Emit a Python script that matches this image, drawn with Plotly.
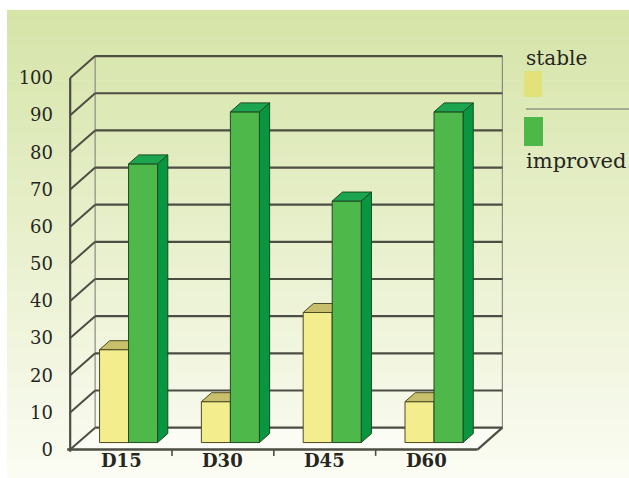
import plotly.graph_objects as go

# ---- data -------------------------------------------------------------
categories = ["D15", "D30", "D45", "D60"]
series_names = ["stable", "improved"]
stable = [25, 11, 35, 11]
improved = [75, 89, 65, 89]
y_ticks = [0, 10, 20, 30, 40, 50, 60, 70, 80, 90, 100]

# ---- styling ----------------------------------------------------------
W, H = 629, 478
SERIF = "DejaVu Serif"
TEXT = "#26261f"
GRID = "#4d4d44"
WALL_EDGE = "#8a8a80"
FACES = {
    "stable": dict(front="#f3ed8e", top="#c8bf6c", side="#b9b25c", line="#4e4a22"),
    "improved": dict(front="#4fb84a", top="#1aa54e", side="#089641", line="#1d4a22"),
}

# oblique projection of the 3-D box: depth z in [0, 1]
DX = 0.245   # depth shift in category units
DY = 5.9     # depth shift in value units
Z_FRONT, Z_BACK = 0.32, 0.73
BAR_SLOTS = {"stable": (0.21, 0.495), "improved": (0.495, 0.78)}

X_RANGE = [-0.1, 4.3]
Y_RANGE = [-2.0, 107.0]
M = dict(l=60, r=121, t=52, b=21)
PW = W - M["l"] - M["r"]
PH = H - M["t"] - M["b"]


def proj(x, v, z):
    return x + z * DX, v + z * DY


def px_x(px):
    return (px - M["l"]) / PW


def px_y(py):
    return 1 - (py - M["t"]) / PH


def poly(pts, fill, line, width=1.0):
    xs = [p[0] for p in pts] + [pts[0][0]]
    ys = [p[1] for p in pts] + [pts[0][1]]
    return go.Scatter(x=xs, y=ys, mode="lines", fill="toself", fillcolor=fill,
                      line=dict(color=line, width=width), hoverinfo="skip",
                      showlegend=False)


def seg(a, b, color, width):
    return go.Scatter(x=[a[0], b[0]], y=[a[1], b[1]], mode="lines",
                      line=dict(color=color, width=width), hoverinfo="skip",
                      showlegend=False)


fig = go.Figure()
n = len(categories)
vmax = y_ticks[-1]

# floor
fig.add_trace(poly([proj(0, 0, 0), proj(n, 0, 0), proj(n, 0, 1), proj(0, 0, 1)],
                   "rgba(255,255,255,0.45)", "rgba(0,0,0,0)", 0))

# back wall and left wall
fig.add_trace(seg(proj(0, 0, 1), proj(0, vmax, 1), WALL_EDGE, 1.2))
fig.add_trace(seg(proj(n, 0, 1), proj(n, vmax, 1), WALL_EDGE, 1.2))
for t in y_ticks:
    fig.add_trace(seg(proj(0, t, 1), proj(n, t, 1), GRID, 2.2))
    fig.add_trace(seg(proj(0, t, 0), proj(0, t, 1), GRID, 2.0))

# front value axis and floor edges
fig.add_trace(seg(proj(0, -0.6, 0), proj(0, vmax, 0), GRID, 2.2))
fig.add_trace(seg(proj(-0.03, 0, 0), proj(n, 0, 0), GRID, 2.6))
fig.add_trace(seg(proj(n, 0, 0), proj(n, 0, 1), GRID, 2.2))
for i in range(1, n):
    fig.add_trace(seg(proj(i, 0, 0), proj(i, -1.7, 0), GRID, 1.6))

# bars drawn back-to-front per category
values = {"stable": stable, "improved": improved}
for i in range(n):
    for name in series_names:
        v = values[name][i]
        a, b = BAR_SLOTS[name]
        x0, x1 = i + a, i + b
        c = FACES[name]
        front = [proj(x0, 0, Z_FRONT), proj(x1, 0, Z_FRONT),
                 proj(x1, v, Z_FRONT), proj(x0, v, Z_FRONT)]
        top = [proj(x0, v, Z_FRONT), proj(x1, v, Z_FRONT),
               proj(x1, v, Z_BACK), proj(x0, v, Z_BACK)]
        side = [proj(x1, 0, Z_FRONT), proj(x1, 0, Z_BACK),
                proj(x1, v, Z_BACK), proj(x1, v, Z_FRONT)]
        fig.add_trace(poly(side, c["side"], c["line"]))
        fig.add_trace(poly(front, c["front"], c["line"]))
        fig.add_trace(poly(top, c["top"], c["line"]))

# category labels
annotations = []
for i, cat in enumerate(categories):
    annotations.append(dict(x=i + 0.5, y=0, xref="x", yref="y", text=f"<b>{cat}</b>",
                            showarrow=False, yanchor="top", yshift=2,
                            font=dict(family=SERIF, size=18, color=TEXT)))

# legend block
annotations.append(dict(x=px_x(524), y=px_y(58), xref="paper", yref="paper",
                        text=series_names[0], showarrow=False, xanchor="left",
                        yanchor="middle", font=dict(family=SERIF, size=20, color=TEXT)))
annotations.append(dict(x=px_x(524), y=px_y(161), xref="paper", yref="paper",
                        text=series_names[1], showarrow=False, xanchor="left",
                        yanchor="middle", font=dict(family=SERIF, size=21, color=TEXT)))

shapes = []
# soft green-to-white backdrop
bands = 80
top_rgb = (214, 228, 168)
bot_rgb = (251, 252, 243)
y_start, y_end = 10, H
for k in range(bands):
    f = k / (bands - 1)
    r, g, b_ = (round(top_rgb[j] + (bot_rgb[j] - top_rgb[j]) * f) for j in range(3))
    ya = y_start + (y_end - y_start) * k / bands
    yb = y_start + (y_end - y_start) * (k + 1) / bands + 0.6
    shapes.append(dict(type="rect", xref="paper", yref="paper", layer="below",
                       x0=px_x(7), x1=px_x(W), y0=px_y(yb), y1=px_y(ya),
                       fillcolor=f"rgb({r},{g},{b_})", line=dict(width=0)))

shapes.append(dict(type="rect", xref="paper", yref="paper", x0=px_x(524), x1=px_x(542),
                   y0=px_y(97), y1=px_y(71), fillcolor="#e1e27a", line=dict(width=0)))
shapes.append(dict(type="rect", xref="paper", yref="paper", x0=px_x(524), x1=px_x(543),
                   y0=px_y(146), y1=px_y(117), fillcolor="#4cb848", line=dict(width=0)))
shapes.append(dict(type="line", xref="paper", yref="paper", x0=px_x(526), x1=px_x(W),
                   y0=px_y(109), y1=px_y(109), line=dict(color="#6f6f66", width=1.2)))

fig.update_layout(
    width=W, height=H, margin=M,
    paper_bgcolor="white", plot_bgcolor="rgba(0,0,0,0)",
    showlegend=False, shapes=shapes, annotations=annotations,
    xaxis=dict(range=X_RANGE, showgrid=False, zeroline=False, showline=False,
               showticklabels=False, ticks="", fixedrange=True),
    yaxis=dict(range=Y_RANGE, showgrid=False, zeroline=False, showline=False,
               tickmode="array", tickvals=y_ticks, ticktext=[str(t) for t in y_ticks],
               ticks="", ticklabelstandoff=6, fixedrange=True,
               tickfont=dict(family=SERIF, size=18, color=TEXT)),
)

fig.write_html("out.html", config={"displayModeBar": False})
